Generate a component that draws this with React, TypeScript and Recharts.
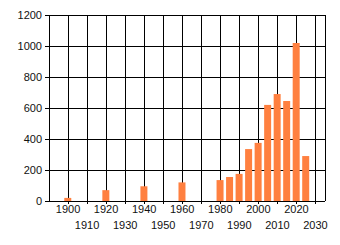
import React from "react";
import { BarChart, Bar, XAxis, YAxis, CartesianGrid } from "recharts";

const years = [1900, 1920, 1940, 1960, 1980, 1985, 1990, 1995, 2000, 2005, 2010, 2015, 2020, 2025];
const counts = [20, 70, 95, 120, 135, 155, 175, 335, 375, 620, 690, 645, 1020, 290];
const xTicks = [1900, 1910, 1920, 1930, 1940, 1950, 1960, 1970, 1980, 1990, 2000, 2010, 2020, 2030];
const yTicks = [0, 200, 400, 600, 800, 1000, 1200];

const data = years.map((year, i) => ({ year, count: counts[i] }));

const FONT = "'Liberation Sans', Arial, sans-serif";

// alternate labels between two rows, like the original
function StaggeredTick(props: any) {
  const { x, y, payload } = props;
  const lower = (payload.value / 10) % 2 === 1;
  return (
    <text
      x={x}
      y={y + (lower ? 23 : 7)}
      textAnchor="middle"
      fontSize={11}
      fontFamily={FONT}
      fill="#111"
    >
      {payload.value}
    </text>
  );
}

export default function App() {
  return (
    <div style={{ position: "absolute", left: 0, top: 0, background: "#fff" }}>
      <BarChart
        width={340}
        height={245}
        data={data}
        margin={{ top: 15, right: 15, left: 0, bottom: 0 }}
        barSize={7}
      >
        <CartesianGrid stroke="#000" strokeWidth={1} shapeRendering="crispEdges" />
        <XAxis
          dataKey="year"
          type="number"
          domain={[1890, 2035]}
          ticks={xTicks}
          interval={0}
          height={44}
          axisLine={{ stroke: "#000", shapeRendering: "crispEdges" }}
          tickLine={{ stroke: "#000", shapeRendering: "crispEdges" }}
          tickSize={3}
          tick={<StaggeredTick />}
        />
        <YAxis
          domain={[0, 1200]}
          ticks={yTicks}
          width={49}
          axisLine={{ stroke: "#000", shapeRendering: "crispEdges" }}
          tickLine={{ stroke: "#000", shapeRendering: "crispEdges" }}
          tickSize={4}
          tickMargin={3}
          tick={{ fontSize: 11, fontFamily: FONT, fill: "#111" }}
        />
        <Bar dataKey="count" fill="#ff8040" isAnimationActive={false} />
      </BarChart>
    </div>
  );
}
